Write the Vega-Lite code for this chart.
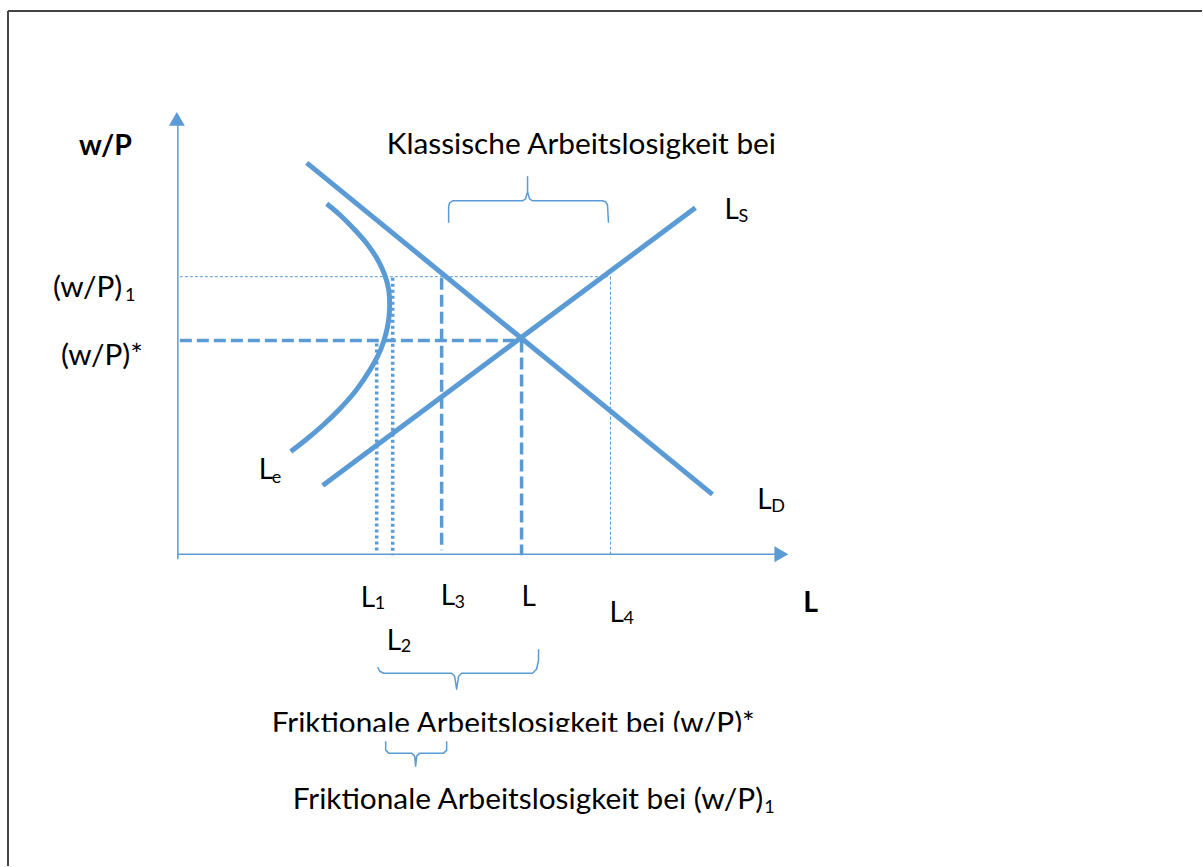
{
  "$schema": "https://vega.github.io/schema/vega-lite/v6.json",
  "width": 1203,
  "height": 867,
  "autosize": {"type": "fit", "contains": "padding"},
  "padding": 0,
  "background": "white",
  "config": {"view": {"stroke": null}},
  "datasets": {
    "frame": [
      {"x": 8, "y": 11, "x2": 1203, "y2": 11},
      {"x": 8, "y": 11, "x2": 8, "y2": 867}
    ],
    "axes": [
      {"x": 178, "y": 560, "x2": 178, "y2": 124},
      {"x": 178, "y": 555, "x2": 776, "y2": 555}
    ],
    "arrowUp": [{"x": 177, "y": 119}],
    "arrowRight": [{"x": 782, "y": 555}],
    "thinGuides": [
      {"x": 180, "y": 277, "x2": 611, "y2": 277},
      {"x": 611, "y": 277, "x2": 611, "y2": 555}
    ],
    "dashGuides": [
      {"x": 180, "y": 341, "x2": 522, "y2": 341},
      {"x": 442, "y": 278, "x2": 442, "y2": 551},
      {"x": 522, "y": 341, "x2": 522, "y2": 556}
    ],
    "dotGuides": [
      {"x": 377, "y": 344, "x2": 377, "y2": 553},
      {"x": 393, "y": 278, "x2": 393, "y2": 556}
    ],
    "straight": [
      {"name": "LD", "x": 307, "y": 163, "x2": 713, "y2": 495},
      {"name": "LS", "x": 323, "y": 486, "x2": 696, "y2": 208}
    ],
    "le": [
      {"o": 0, "x": 327, "y": 204},
      {"o": 1, "x": 340, "y": 215},
      {"o": 2, "x": 355, "y": 230},
      {"o": 3, "x": 368, "y": 245},
      {"o": 4, "x": 378, "y": 260},
      {"o": 5, "x": 385, "y": 275},
      {"o": 6, "x": 389, "y": 290},
      {"o": 7, "x": 390, "y": 305},
      {"o": 8, "x": 389, "y": 320},
      {"o": 9, "x": 386, "y": 335},
      {"o": 10, "x": 381, "y": 350},
      {"o": 11, "x": 373.5, "y": 365},
      {"o": 12, "x": 364, "y": 380},
      {"o": 13, "x": 353, "y": 395},
      {"o": 14, "x": 339.5, "y": 410},
      {"o": 15, "x": 324, "y": 425},
      {"o": 16, "x": 306.5, "y": 440},
      {"o": 17, "x": 291, "y": 452}
    ],
    "braces": [
      {"b": "top", "o": 0, "x": 449, "y": 223},
      {"b": "top", "o": 1, "x": 449, "y": 207},
      {"b": "top", "o": 2, "x": 450, "y": 203},
      {"b": "top", "o": 3, "x": 453, "y": 201},
      {"b": "top", "o": 4, "x": 523, "y": 201},
      {"b": "top", "o": 5, "x": 526, "y": 199},
      {"b": "top", "o": 6, "x": 528, "y": 192},
      {"b": "top", "o": 7, "x": 528, "y": 177},
      {"b": "top", "o": 8, "x": 528, "y": 192},
      {"b": "top", "o": 9, "x": 530, "y": 199},
      {"b": "top", "o": 10, "x": 533, "y": 201},
      {"b": "top", "o": 11, "x": 603, "y": 201},
      {"b": "top", "o": 12, "x": 606, "y": 202},
      {"b": "top", "o": 13, "x": 608, "y": 205},
      {"b": "top", "o": 14, "x": 609, "y": 223},
      {"b": "mid", "o": 0, "x": 378, "y": 668},
      {"b": "mid", "o": 1, "x": 380, "y": 672},
      {"b": "mid", "o": 2, "x": 384, "y": 674},
      {"b": "mid", "o": 3, "x": 452, "y": 674},
      {"b": "mid", "o": 4, "x": 455, "y": 677},
      {"b": "mid", "o": 5, "x": 457, "y": 690},
      {"b": "mid", "o": 6, "x": 459, "y": 677},
      {"b": "mid", "o": 7, "x": 462, "y": 674},
      {"b": "mid", "o": 8, "x": 533, "y": 674},
      {"b": "mid", "o": 9, "x": 537, "y": 670},
      {"b": "mid", "o": 10, "x": 539, "y": 661},
      {"b": "mid", "o": 11, "x": 539, "y": 650},
      {"b": "low", "o": 0, "x": 386, "y": 742},
      {"b": "low", "o": 1, "x": 386, "y": 751},
      {"b": "low", "o": 2, "x": 389, "y": 754},
      {"b": "low", "o": 3, "x": 412, "y": 754},
      {"b": "low", "o": 4, "x": 415, "y": 757},
      {"b": "low", "o": 5, "x": 416, "y": 767},
      {"b": "low", "o": 6, "x": 417, "y": 757},
      {"b": "low", "o": 7, "x": 420, "y": 754},
      {"b": "low", "o": 8, "x": 444, "y": 754},
      {"b": "low", "o": 9, "x": 447, "y": 751},
      {"b": "low", "o": 10, "x": 447, "y": 742}
    ],
    "phrases": [
      {"t": "Klassische Arbeitslosigkeit bei", "x": 387, "y": 154},
      {"t": "(w/P)", "x": 53, "y": 297},
      {"t": "(w/P)*", "x": 61, "y": 365},
      {"t": "Friktionale Arbeitslosigkeit bei (w/P)*", "x": 272, "y": 734},
      {"t": "Friktionale Arbeitslosigkeit bei (w/P)", "x": 293, "y": 810}
    ],
    "letters": [
      {"t": "L", "x": 725, "y": 219},
      {"t": "L", "x": 259, "y": 480},
      {"t": "L", "x": 758, "y": 510},
      {"t": "L", "x": 361, "y": 608},
      {"t": "L", "x": 441, "y": 606},
      {"t": "L", "x": 522, "y": 607},
      {"t": "L", "x": 387, "y": 651},
      {"t": "L", "x": 610, "y": 623}
    ],
    "subs": [
      {"t": "1", "x": 125, "y": 301},
      {"t": "S", "x": 739, "y": 222},
      {"t": "e", "x": 272, "y": 484},
      {"t": "D", "x": 772, "y": 513},
      {"t": "1", "x": 375, "y": 610},
      {"t": "3", "x": 455, "y": 609},
      {"t": "2", "x": 401, "y": 653},
      {"t": "4", "x": 624, "y": 625},
      {"t": "1", "x": 765, "y": 814}
    ],
    "bold": [
      {"t": "w/P", "x": 79, "y": 155},
      {"t": "L", "x": 804, "y": 613}
    ],
    "clip": [{"x": 262, "y": 732.5, "x2": 775, "y2": 741}]
  },
  "encoding": {
    "x": {"field": "x", "type": "quantitative", "scale": {"domain": [0, 1203], "nice": false, "zero": false}, "axis": null},
    "y": {"field": "y", "type": "quantitative", "scale": {"domain": [0, 867], "nice": false, "zero": false, "reverse": true}, "axis": null}
  },
  "layer": [
    {"data": {"name": "frame"}, "mark": {"type": "rule", "color": "#444444", "strokeWidth": 2},
     "encoding": {"x2": {"field": "x2"}, "y2": {"field": "y2"}}},
    {"data": {"name": "thinGuides"}, "mark": {"type": "rule", "color": "#5B9BD5", "strokeWidth": 1, "strokeDash": [3, 2]},
     "encoding": {"x2": {"field": "x2"}, "y2": {"field": "y2"}}},
    {"data": {"name": "dashGuides"}, "mark": {"type": "rule", "color": "#5B9BD5", "strokeWidth": 3.5, "strokeDash": [12, 5]},
     "encoding": {"x2": {"field": "x2"}, "y2": {"field": "y2"}}},
    {"data": {"name": "dotGuides"}, "mark": {"type": "rule", "color": "#5B9BD5", "strokeWidth": 3.5, "strokeDash": [3, 3]},
     "encoding": {"x2": {"field": "x2"}, "y2": {"field": "y2"}}},
    {"data": {"name": "axes"}, "mark": {"type": "rule", "color": "#5B9BD5", "strokeWidth": 1.5},
     "encoding": {"x2": {"field": "x2"}, "y2": {"field": "y2"}}},
    {"data": {"name": "arrowUp"}, "mark": {"type": "point", "shape": "triangle-up", "size": 256, "filled": true, "opacity": 1, "color": "#5B9BD5", "strokeWidth": 0}},
    {"data": {"name": "arrowRight"}, "mark": {"type": "point", "shape": "triangle-right", "size": 256, "filled": true, "opacity": 1, "color": "#5B9BD5", "strokeWidth": 0}},
    {"data": {"name": "straight"}, "mark": {"type": "rule", "color": "#5B9BD5", "strokeWidth": 5, "strokeCap": "butt"},
     "encoding": {"x2": {"field": "x2"}, "y2": {"field": "y2"}}},
    {"data": {"name": "le"}, "mark": {"type": "line", "color": "#5B9BD5", "strokeWidth": 5, "interpolate": "catmull-rom", "strokeCap": "butt"},
     "encoding": {"order": {"field": "o", "type": "quantitative"}}},
    {"data": {"name": "braces"}, "mark": {"type": "line", "color": "#5B9BD5", "strokeWidth": 1.5, "strokeJoin": "round"},
     "encoding": {"detail": {"field": "b"}, "order": {"field": "o", "type": "quantitative"}}},
    {"data": {"name": "phrases"}, "mark": {"type": "text", "font": "Lato", "fontSize": 29.8, "align": "left", "baseline": "alphabetic", "color": "#000000"},
     "encoding": {"text": {"field": "t"}}},
    {"data": {"name": "letters"}, "mark": {"type": "text", "font": "Lato", "fontSize": 28, "align": "left", "baseline": "alphabetic", "color": "#000000"},
     "encoding": {"text": {"field": "t"}}},
    {"data": {"name": "subs"}, "mark": {"type": "text", "font": "Lato", "fontSize": 18, "align": "left", "baseline": "alphabetic", "color": "#000000"},
     "encoding": {"text": {"field": "t"}}},
    {"data": {"name": "bold"}, "mark": {"type": "text", "font": "Lato", "fontSize": 28.5, "fontWeight": "bold", "align": "left", "baseline": "alphabetic", "color": "#000000"},
     "encoding": {"text": {"field": "t"}}},
    {"data": {"name": "clip"}, "mark": {"type": "rect", "color": "white", "opacity": 1},
     "encoding": {"x2": {"field": "x2"}, "y2": {"field": "y2"}}}
  ]
}
